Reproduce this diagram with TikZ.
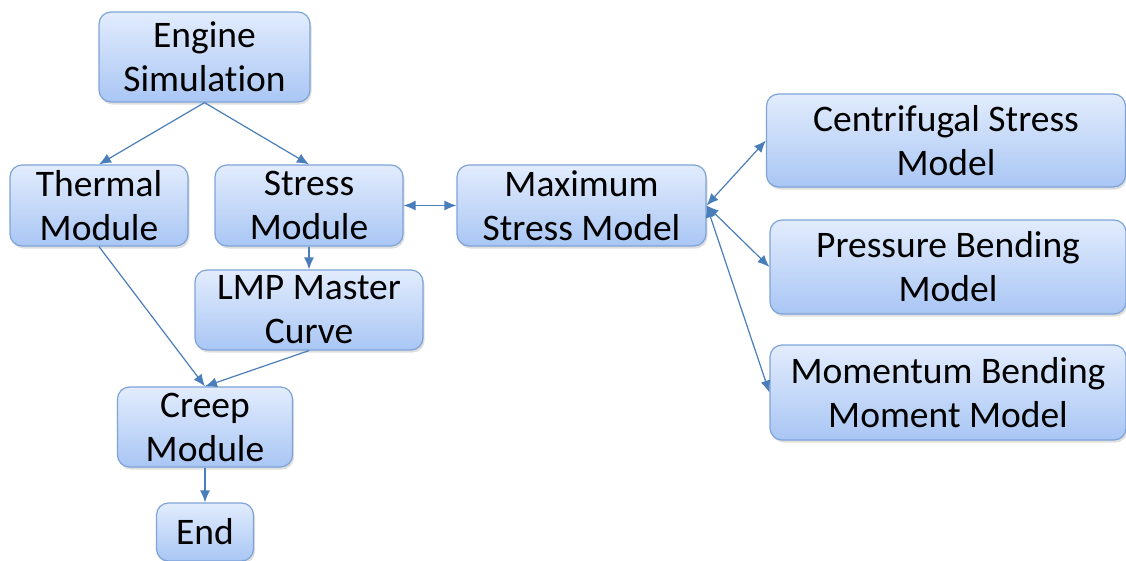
\documentclass[tikz,border=0pt]{standalone}
\usepackage{fontspec}
\setmainfont[Ligatures={NoCommon}]{Carlito}
\usetikzlibrary{arrows.meta,shadows}
\definecolor{boxline}{HTML}{7EA3D8}
\definecolor{boxtop}{HTML}{E2ECFD}
\definecolor{boxbot}{HTML}{A9C6F4}
\definecolor{flow}{HTML}{4A7EBB}
\tikzset{
  box/.style={draw=boxline, line width=1.2pt, rounded corners=12pt,
    top color=boxtop, bottom color=boxbot, align=center,
    inner sep=0pt, font=\fontsize{37.5}{44}\selectfont,
    drop shadow={shadow xshift=1.5pt, shadow yshift=-2.5pt, opacity=0.25}},
  flowline/.style={draw=flow, line width=1.2pt, -{Latex[length=12pt,width=10pt]}},
  twoway/.style={draw=flow, line width=1.2pt, {Latex[length=12pt,width=10pt]}-{Latex[length=12pt,width=10pt]}}
}
\begin{document}
\begin{tikzpicture}[x=1pt, y=-1pt]
\clip (0,0) rectangle (1126,560);
\fill[white] (0,0) rectangle (1126,560);

\node[box, minimum width=211pt, minimum height=90pt] (eng)   at (204.5,57)   {Engine\\Simulation};
\node[box, minimum width=178pt, minimum height=81pt] (therm) at (99,205.5)   {Thermal\\Module};
\node[box, minimum width=188pt, minimum height=81pt] (stress) at (309,205.5) {Stress\\Module};
\node[box, minimum width=249pt, minimum height=81pt] (maxm)  at (581.5,205.5) {Maximum\\Stress Model};
\node[box, minimum width=228pt, minimum height=80pt] (lmp)   at (309,310)    {LMP Master\\Curve};
\node[box, minimum width=175pt, minimum height=80pt] (creep) at (205,427)    {Creep\\Module};
\node[box, minimum width=97pt,  minimum height=58pt] (end)   at (205,532)    {End};
\node[box, minimum width=359pt, minimum height=93pt] (cent)  at (946,140.5)  {Centrifugal Stress\\Model};
\node[box, minimum width=356pt, minimum height=94pt] (press) at (948,267)    {Pressure Bending\\Model};
\node[box, minimum width=356pt, minimum height=95pt] (mom)   at (948,392.5)  {Momentum Bending\\Moment Model};

\draw[flowline] (eng.south) -- (therm.north);
\draw[flowline] (eng.south) -- (stress.north);
\draw[twoway] (stress.east) -- (maxm.west);
\draw[flowline] (stress.south) -- (lmp.north);
\draw[flowline] (therm.south) -- (creep.north);
\draw[flowline] (lmp.south) -- (creep.north);
\draw[flowline] (creep.south) -- (end.north);
\draw[twoway] (maxm.east) -- (cent.west);
\draw[twoway] (maxm.east) -- (press.west);
\draw[twoway] (maxm.east) -- (mom.west);
\end{tikzpicture}
\end{document}
